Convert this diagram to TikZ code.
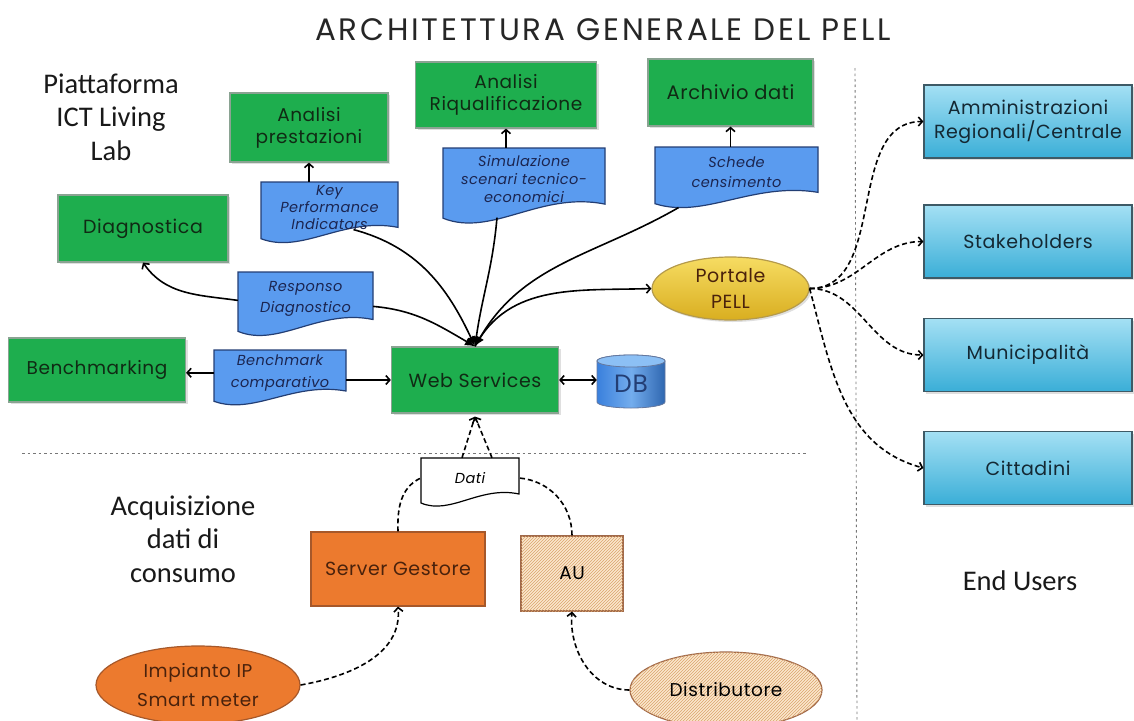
\documentclass[tikz,border=0pt]{standalone}
\usepackage{fontspec}
\setmainfont{Poppins}[LetterSpace=3]
\newfontfamily\calib{Carlito}
\usetikzlibrary{arrows.meta,shapes.geometric,patterns,calc,shadows}
\definecolor{gfill}{HTML}{1EAE4E}
\definecolor{gborder}{HTML}{8AA392}
\definecolor{gtext}{HTML}{102A14}
\definecolor{docfill}{HTML}{5A9BEF}
\definecolor{docborder}{HTML}{233E74}
\definecolor{doctextc}{HTML}{1B2550}
\definecolor{etop}{HTML}{A4E0F4}
\definecolor{ebot}{HTML}{3AAED7}
\definecolor{eborder}{HTML}{3E5A66}
\definecolor{etext}{HTML}{142833}
\definecolor{ptop}{HTML}{F6DC62}
\definecolor{pbot}{HTML}{D9AE20}
\definecolor{pborder}{HTML}{B49A4C}
\definecolor{ofill}{HTML}{EC7A2E}
\definecolor{oborder}{HTML}{A6582A}
\definecolor{otext}{HTML}{4A220C}
\definecolor{hbase}{HTML}{FBE7CE}
\definecolor{hline}{HTML}{D9A46C}
\definecolor{hborder}{HTML}{A0694A}
\definecolor{dbtop}{HTML}{8CC0F5}
\definecolor{dbbot}{HTML}{3A80DC}
\definecolor{sepc}{HTML}{777777}
\newcommand\docnode[7]{%
  \path[#1] ({#3-#5/2},{#4}) -- ({#3+#5/2},{#4}) -- ({#3+#5/2},{#4-0.72*#6})
    .. controls ({#3+0.1*#5},{#4-0.55*#6}) and ({#3-0.2*#5},{#4-1.15*#6}) .. ({#3-#5/2},{#4-0.9*#6}) -- cycle;
  \node[doctext, minimum width=#5pt, minimum height={0.8*#6pt}] (#2) at (#3,{#4-0.4*#6}) {#7};
}
\begin{document}
\begin{tikzpicture}[x=1pt,y=1pt,
  gbox/.style={draw=gborder, fill=gfill, line width=1.2pt, align=center, text=gtext,
    font=\fontsize{18.5}{22}\selectfont, inner sep=2pt,
    drop shadow={opacity=0.25, shadow xshift=2pt, shadow yshift=-2pt}},
  ebox/.style={draw=eborder, top color=etop, bottom color=ebot, line width=1.2pt, align=center,
    text=etext, font=\fontsize{19}{24}\selectfont, minimum width=208pt, minimum height=73pt,
    drop shadow={opacity=0.25, shadow xshift=2pt, shadow yshift=-2pt}},
  docshape/.style={draw=docborder, fill=docfill, line width=1.2pt},
  datishape/.style={draw=black, fill=white, line width=1.2pt},
  doctext/.style={align=center, text=doctextc, font=\itshape\fontsize{14.5}{18}\selectfont, inner sep=0pt},
  obox/.style={draw=oborder, fill=ofill, line width=1.2pt, align=center, text=otext,
    font=\fontsize{19}{29}\selectfont},
  hbox/.style={draw=hborder, fill=hbase, postaction={pattern=north east lines, pattern color=hline},
    line width=1.2pt, align=center, text=black, font=\fontsize{18.5}{24}\selectfont},
  pbox/.style={ellipse, draw=pborder, top color=ptop, bottom color=pbot, line width=1.2pt,
    align=center, text=otext, font=\fontsize{19}{26}\selectfont, inner sep=0pt,
    drop shadow={opacity=0.25, shadow xshift=2pt, shadow yshift=-2pt}},
  lbl/.style={font=\calib\fontsize{28.5}{33.5}\selectfont, align=center, text=black!90},
  ttl/.style={font=\fontsize{31}{32}\selectfont\addfontfeature{LetterSpace=9}, text=black!85},
  arr/.style={line width=1.6pt, -{Straight Barb[length=4pt,width=9pt]}},
  arrb/.style={line width=1.6pt, {Straight Barb[length=4pt,width=9pt]}-{Straight Barb[length=4pt,width=9pt]}},
  wsarr/.style={line width=1.6pt, -{Latex[length=10pt,width=9pt]}},
  darr/.style={line width=1.6pt, dash pattern=on 5pt off 3pt, -{Straight Barb[length=4pt,width=9pt]}},
  dline/.style={line width=1.6pt, dash pattern=on 5pt off 3pt},
  sep/.style={draw=sepc, line width=0.9pt, dash pattern=on 2.5pt off 3pt}
]
\useasboundingbox (0,0) rectangle (1134,-720);

% separators
\draw[sep] (22,-453) -- (806,-453);
\draw[sep] (855,-68) -- (857,-720);

% title and labels
\node[ttl] (title) at (603,-30) {ARCHITETTURA GENERALE DEL PELL};
\node[lbl] (plat) at (111,-117) {Piattaforma\\ICT Living\\Lab};
\node[lbl] (acq) at (183,-539) {Acquisizione\\dati di\\consumo};
\node[lbl] (eu) at (1020,-581) {End Users};

% green boxes
\node[gbox, minimum width=158pt, minimum height=69pt] (ap) at (309,-127.5) {Analisi\\prestazioni};
\node[gbox, minimum width=181pt, minimum height=66pt] (ar) at (506,-95) {Analisi\\Riqualificazione};
\node[gbox, minimum width=165pt, minimum height=67pt, font=\fontsize{19.5}{22}\selectfont] (ad) at (730.5,-92.5) {Archivio dati};
\node[gbox, minimum width=170pt, minimum height=67pt, font=\fontsize{19}{22}\selectfont] (dg) at (143,-228.5) {Diagnostica};
\node[gbox, minimum width=177pt, minimum height=64pt] (bm) at (97,-370) {Benchmarking};
\node[gbox, minimum width=167pt, minimum height=66pt, font=\fontsize{19}{22}\selectfont] (ws) at (475,-380) {Web Services};

% DB cylinder
\path[draw=docborder!70, line width=0.8pt, left color=dbbot, right color=dbbot!80!black, middle color=dbtop!70!dbbot]
  (597,-361) -- (597,-402) arc[start angle=180, end angle=360, x radius=34, y radius=6] -- (665,-361)
  arc[start angle=0, end angle=180, x radius=34, y radius=6] -- cycle;
\path[draw=docborder!70, line width=0.8pt, fill=dbtop] (631,-361) ellipse[x radius=34, y radius=6];
\node[minimum width=68pt, minimum height=53pt, text=docborder, font=\fontsize{25}{26}\selectfont] (db) at (631,-384) {DB};

% documents
\docnode{docshape}{kpi}{329.5}{-182}{137}{63}{Key\\[-1pt]Performance\\[-1pt]Indicators}
\docnode{docshape}{sim}{524}{-148}{162}{78}{Simulazione\\scenari tecnico-\\economici}
\docnode{docshape}{sch}{736.5}{-147}{163}{63}{Schede\\[2pt]censimento}
\docnode{docshape}{resp}{305.5}{-272}{135}{66}{Responso\\[3pt]Diagnostico}
\docnode{docshape}{bcmp}{280}{-350}{132}{57}{Benchmark\\[4pt]comparativo}
\docnode{datishape}{dati}{470}{-458}{98}{50}{\textcolor{black}{Dati}}

% portale
\node[pbox, minimum width=157pt, minimum height=63pt] (pp) at (730.5,-288.5) {Portale\\PELL};

% end users
\node[ebox] (amm) at (1028,-121.5) {Amministrazioni\\Regionali/Centrale};
\node[ebox] (stk) at (1028,-241.5) {Stakeholders};
\node[ebox] (mun) at (1028,-355) {Municipalità};
\node[ebox] (cit) at (1028,-468) {Cittadini};

% acquisition
\node[obox, minimum width=174pt, minimum height=74pt] (sg) at (398,-569) {Server Gestore};
\node[hbox, minimum width=102pt, minimum height=75pt] (au) at (572,-573.5) {AU};
\node[obox, ellipse, minimum width=204pt, minimum height=78pt, inner sep=0pt, font=\fontsize{18.5}{29}\selectfont] (imp) at (198,-685) {Impianto IP\\Smart meter};
\node[hbox, ellipse, minimum width=192pt, minimum height=76pt, inner sep=0pt] (dis) at (726,-690) {Distributore};

% solid connectors
\draw[arr] (kpi.north -| ap.south) -- (ap.south);
\draw[arr] (sim.north -| ar.south) -- (ar.south);
\draw[arr] (sch.north -| ad.south) -- (ad.south);
\draw[wsarr] ($(kpi.south)+(24,3)$) to[out=-15,in=115] (ws.north);
\draw[wsarr] ($(resp.east)+(0,-8)$) to[out=-5,in=150] (ws.north);
\draw[wsarr] ($(sim.south)+(-27,-7)$) to[out=-95,in=82] (ws.north);
\draw[wsarr] ($(sch.south)+(-58,-10)$) to[out=-150,in=60] (ws.north);
\draw[arr] (ws.north) to[out=62,in=182] (pp.west);
\draw[arr] ($(resp.west)+(0,-2)$) to[out=172,in=-55] (dg.south);
\draw[arr] (bcmp.west) -- (bcmp.west -| bm.east);
\draw[arr] (ws.west -| bcmp.east) -- (ws.west);
\draw[arrb] (ws.east) -- (ws.east -| db.west);

% dashed connectors
\draw[darr] ([xshift=-8pt]dati.north) -- ([yshift=-3pt]ws.south);
\draw[darr] ([xshift=22pt]dati.north) -- ([yshift=-3pt]ws.south);
\draw[dline] (sg.north) to[out=92,in=205] (dati.west);
\draw[dline] (au.north) to[out=90,in=-5] (dati.east);
\draw[darr] (imp.east) to[out=10,in=-85] (sg.south);
\draw[darr] (dis.west) to[out=180,in=-95] (au.south);
\draw[darr] (pp.east) to[out=0,in=180] (amm.west);
\draw[darr] (pp.east) to[out=0,in=180] (stk.west);
\draw[darr] (pp.east) to[out=0,in=180] (mun.west);
\draw[darr] (pp.east) to[out=-75,in=165] (cit.west);
\end{tikzpicture}
\end{document}
